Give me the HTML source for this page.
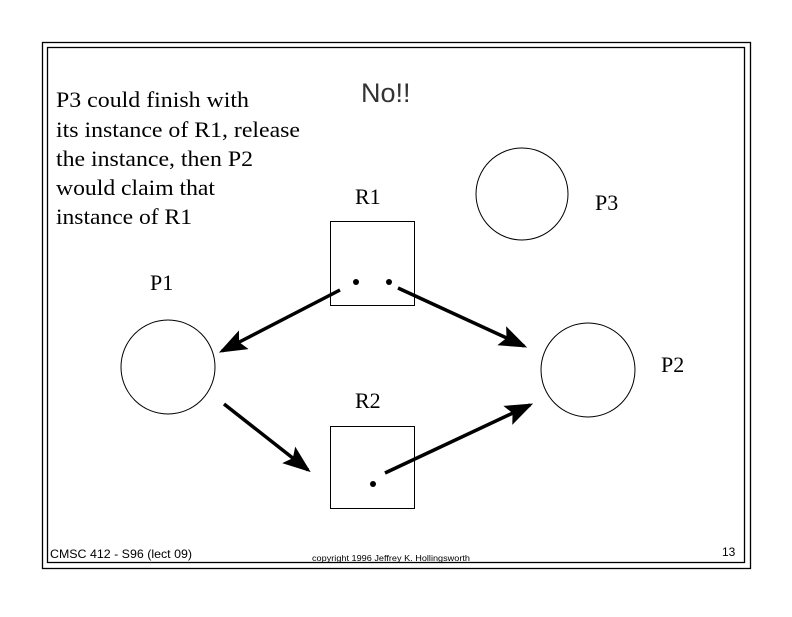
<!DOCTYPE html>
<html><head><style>body{margin:0;background:#fff}</style></head><body>
<svg width="792" height="612" viewBox="0 0 792 612" xmlns="http://www.w3.org/2000/svg">
<defs><marker id="a" markerWidth="8" markerHeight="6" refX="7" refY="3" orient="auto" markerUnits="strokeWidth"><path d="M0,0 L8,3 L0,6 L1.5,3 z" fill="#000"/></marker></defs>
<rect x="42.5" y="42.5" width="708" height="526" fill="none" stroke="#000" stroke-width="1.3"/>
<rect x="47.5" y="47.5" width="697" height="515" fill="none" stroke="#000" stroke-width="1.3"/>
<g font-family="Liberation Serif, serif" font-size="22" fill="#000">
<text x="56" y="107" textLength="193" lengthAdjust="spacingAndGlyphs">P3 could finish with</text>
<text x="56" y="137" textLength="244" lengthAdjust="spacingAndGlyphs">its instance of R1, release</text>
<text x="56" y="166" textLength="197" lengthAdjust="spacingAndGlyphs">the instance, then P2</text>
<text x="56" y="195" textLength="159" lengthAdjust="spacingAndGlyphs">would claim that</text>
<text x="56" y="224" textLength="136" lengthAdjust="spacingAndGlyphs">instance of R1</text>
<text x="355" y="204">R1</text>
<text x="595" y="210">P3</text>
<text x="150" y="290">P1</text>
<text x="661" y="372">P2</text>
<text x="355" y="408">R2</text>
</g>
<text x="361" y="102" font-family="Liberation Sans, sans-serif" font-size="27" fill="#333">No!!</text>
<rect x="330.5" y="221.5" width="84" height="84" fill="none" stroke="#000"/>
<rect x="330.5" y="426.5" width="84" height="82" fill="none" stroke="#000"/>
<circle cx="356" cy="282" r="3" fill="#000"/><circle cx="389" cy="282" r="3" fill="#000"/><circle cx="373" cy="484" r="3" fill="#000"/>
<circle cx="168" cy="367" r="47" fill="none" stroke="#000"/>
<circle cx="588" cy="370" r="47" fill="none" stroke="#000"/>
<circle cx="522" cy="194" r="46" fill="none" stroke="#000"/>
<g stroke="#000" stroke-width="3.5" fill="none">
<line x1="340" y1="290" x2="222" y2="351" marker-end="url(#a)"/>
<line x1="398" y1="288" x2="524" y2="346" marker-end="url(#a)"/>
<line x1="224" y1="404" x2="308" y2="470" marker-end="url(#a)"/>
<line x1="385" y1="473" x2="530" y2="405" marker-end="url(#a)"/>
</g>
<text x="50" y="558" font-family="Liberation Sans, sans-serif" font-size="12" textLength="142" lengthAdjust="spacingAndGlyphs">CMSC 412 - S96  (lect 09)</text>
<text x="312" y="561" font-family="Liberation Sans, sans-serif" font-size="8.5" textLength="158" lengthAdjust="spacingAndGlyphs">copyright 1996  Jeffrey K. Hollingsworth</text>
<text x="722" y="556" font-family="Liberation Sans, sans-serif" font-size="12">13</text>
</svg>
</body></html>
